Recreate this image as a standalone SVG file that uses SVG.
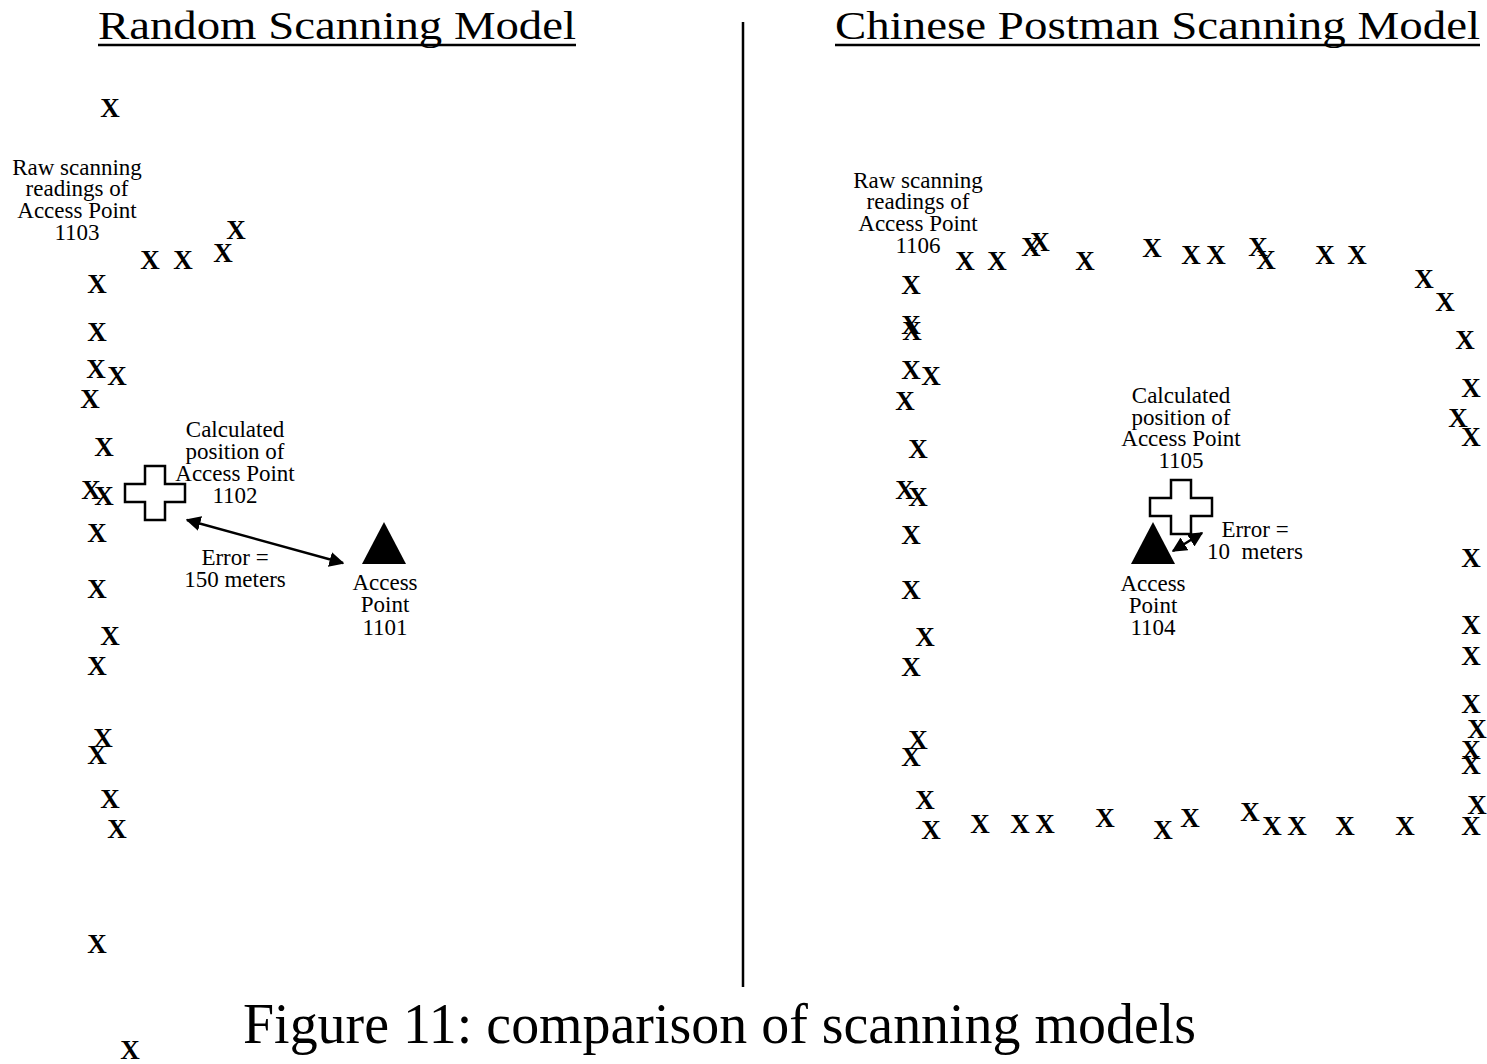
<svg xmlns="http://www.w3.org/2000/svg" width="1487" height="1064" viewBox="0 0 1487 1064">
<style>
.x{font-family:"Liberation Serif",serif;font-weight:bold;font-size:27px;text-anchor:middle;fill:#000}
.lb{font-family:"Liberation Serif",serif;font-size:23px;text-anchor:middle;fill:#000;white-space:pre}
.tt{font-family:"Liberation Serif",serif;font-size:41px;fill:#000}
.cap{font-family:"Liberation Serif",serif;font-size:56px;fill:#000}
.ul{stroke:#000;stroke-width:2.5}
.cross{fill:#fff;stroke:#000;stroke-width:2.5}
.ap{fill:#000}
.conn{stroke:#000;stroke-width:2.5;fill:none}
</style>
<defs>
<marker id="ah" viewBox="0 0 10 10" refX="9" refY="5" markerWidth="6" markerHeight="6" orient="auto-start-reverse" markerUnits="strokeWidth">
<path d="M0,0 L10,5 L0,10 Z" fill="#000"/>
</marker>
</defs>
<rect width="1487" height="1064" fill="#fff"/>

<g id="titles">
<text class="tt" x="98" y="39" textLength="478" lengthAdjust="spacingAndGlyphs">Random Scanning Model</text>
<line class="ul" x1="98" y1="45" x2="576" y2="45"/>
<text class="tt" x="835" y="39" textLength="645" lengthAdjust="spacingAndGlyphs">Chinese Postman Scanning Model</text>
<line class="ul" x1="835" y1="45" x2="1480" y2="45"/>
</g>
<line id="divider" x1="743" y1="22" x2="743" y2="987" stroke="#000" stroke-width="2.5"/>

<g id="readings-1103">
<text class="x" x="110" y="117">X</text>
<text class="x" x="236" y="239">X</text>
<text class="x" x="150" y="269">X</text>
<text class="x" x="183" y="269">X</text>
<text class="x" x="223" y="262">X</text>
<text class="x" x="97" y="293">X</text>
<text class="x" x="97" y="341">X</text>
<text class="x" x="96" y="378">X</text>
<text class="x" x="117" y="385">X</text>
<text class="x" x="90" y="408">X</text>
<text class="x" x="104" y="456">X</text>
<text class="x" x="91" y="499">X</text>
<text class="x" x="104" y="505">X</text>
<text class="x" x="97" y="542">X</text>
<text class="x" x="97" y="598">X</text>
<text class="x" x="110" y="645">X</text>
<text class="x" x="97" y="675">X</text>
<text class="x" x="103" y="747">X</text>
<text class="x" x="97" y="764">X</text>
<text class="x" x="110" y="808">X</text>
<text class="x" x="117" y="838">X</text>
<text class="x" x="97" y="953">X</text>
<text class="x" x="130" y="1059">X</text>
</g>
<g id="label-1103">
<text class="lb" x="77" y="175">Raw scanning</text>
<text class="lb" x="77" y="196">readings of</text>
<text class="lb" x="77" y="218">Access Point</text>
<text class="lb" x="77" y="240">1103</text>
</g>
<g id="calc-1102">
<path class="cross" d="M145,466 H165 V484 H185 V502 H165 V520 H145 V502 H125 V484 H145 Z"/>
<text class="lb" x="235" y="437">Calculated</text>
<text class="lb" x="235" y="459">position of</text>
<text class="lb" x="235" y="481">Access Point</text>
<text class="lb" x="235" y="503">1102</text>
</g>
<g id="ap-1101">
<path class="ap" d="M384,522 L406,564 L362,564 Z"/>
<text class="lb" x="385" y="590">Access</text>
<text class="lb" x="385" y="612">Point</text>
<text class="lb" x="385" y="635">1101</text>
</g>

<g id="readings-1106">
<text class="x" x="911" y="294">X</text>
<text class="x" x="965" y="270">X</text>
<text class="x" x="997" y="270">X</text>
<text class="x" x="1031" y="256">X</text>
<text class="x" x="1040" y="251">X</text>
<text class="x" x="1085" y="270">X</text>
<text class="x" x="1152" y="257">X</text>
<text class="x" x="1191" y="264">X</text>
<text class="x" x="1216" y="264">X</text>
<text class="x" x="1258" y="256">X</text>
<text class="x" x="1266" y="269">X</text>
<text class="x" x="1325" y="264">X</text>
<text class="x" x="1357" y="264">X</text>
<text class="x" x="1424" y="288">X</text>
<text class="x" x="1445" y="311">X</text>
<text class="x" x="1465" y="349">X</text>
<text class="x" x="1471" y="397">X</text>
<text class="x" x="1458" y="427">X</text>
<text class="x" x="1471" y="446">X</text>
<text class="x" x="1471" y="567">X</text>
<text class="x" x="1471" y="634">X</text>
<text class="x" x="1471" y="665">X</text>
<text class="x" x="1471" y="713">X</text>
<text class="x" x="1477" y="738">X</text>
<text class="x" x="1471" y="759">X</text>
<text class="x" x="1471" y="774">X</text>
<text class="x" x="1477" y="814">X</text>
<text class="x" x="1471" y="835">X</text>
<text class="x" x="911" y="334">X</text>
<text class="x" x="912" y="340">X</text>
<text class="x" x="911" y="379">X</text>
<text class="x" x="931" y="385">X</text>
<text class="x" x="905" y="410">X</text>
<text class="x" x="918" y="458">X</text>
<text class="x" x="905" y="499">X</text>
<text class="x" x="918" y="506">X</text>
<text class="x" x="911" y="544">X</text>
<text class="x" x="911" y="599">X</text>
<text class="x" x="925" y="646">X</text>
<text class="x" x="911" y="676">X</text>
<text class="x" x="918" y="749">X</text>
<text class="x" x="911" y="766">X</text>
<text class="x" x="925" y="809">X</text>
<text class="x" x="931" y="839">X</text>
<text class="x" x="980" y="833">X</text>
<text class="x" x="1020" y="833">X</text>
<text class="x" x="1045" y="833">X</text>
<text class="x" x="1105" y="827">X</text>
<text class="x" x="1163" y="839">X</text>
<text class="x" x="1190" y="827">X</text>
<text class="x" x="1250" y="821">X</text>
<text class="x" x="1272" y="835">X</text>
<text class="x" x="1297" y="835">X</text>
<text class="x" x="1345" y="835">X</text>
<text class="x" x="1405" y="835">X</text>
</g>
<g id="label-1106">
<text class="lb" x="918" y="188">Raw scanning</text>
<text class="lb" x="918" y="209">readings of</text>
<text class="lb" x="918" y="231">Access Point</text>
<text class="lb" x="918" y="253">1106</text>
</g>
<g id="calc-1105">
<path class="cross" d="M1171,480 H1191 V498 H1212 V516 H1191 V534 H1171 V516 H1150 V498 H1171 Z"/>
<text class="lb" x="1181" y="403">Calculated</text>
<text class="lb" x="1181" y="425">position of</text>
<text class="lb" x="1181" y="446">Access Point</text>
<text class="lb" x="1181" y="468">1105</text>
</g>
<g id="ap-1104">
<path class="ap" d="M1153,522 L1175,564 L1131,564 Z"/>
<text class="lb" x="1153" y="591">Access</text>
<text class="lb" x="1153" y="613">Point</text>
<text class="lb" x="1153" y="635">1104</text>
</g>

<g id="connectors">
<line class="conn" x1="187" y1="520" x2="343" y2="563" marker-start="url(#ah)" marker-end="url(#ah)"/>
<line class="conn" x1="1173" y1="551" x2="1202" y2="533" marker-start="url(#ah)" marker-end="url(#ah)"/>
</g>
<g id="error-labels">
<text class="lb" x="235" y="565">Error =</text>
<text class="lb" x="235" y="587">150 meters</text>
<text class="lb" x="1255" y="537">Error =</text>
<text class="lb" x="1255" y="559">10  meters</text>
</g>

<text class="cap" x="243" y="1043" textLength="953" lengthAdjust="spacingAndGlyphs">Figure 11: comparison of scanning models</text>
</svg>
